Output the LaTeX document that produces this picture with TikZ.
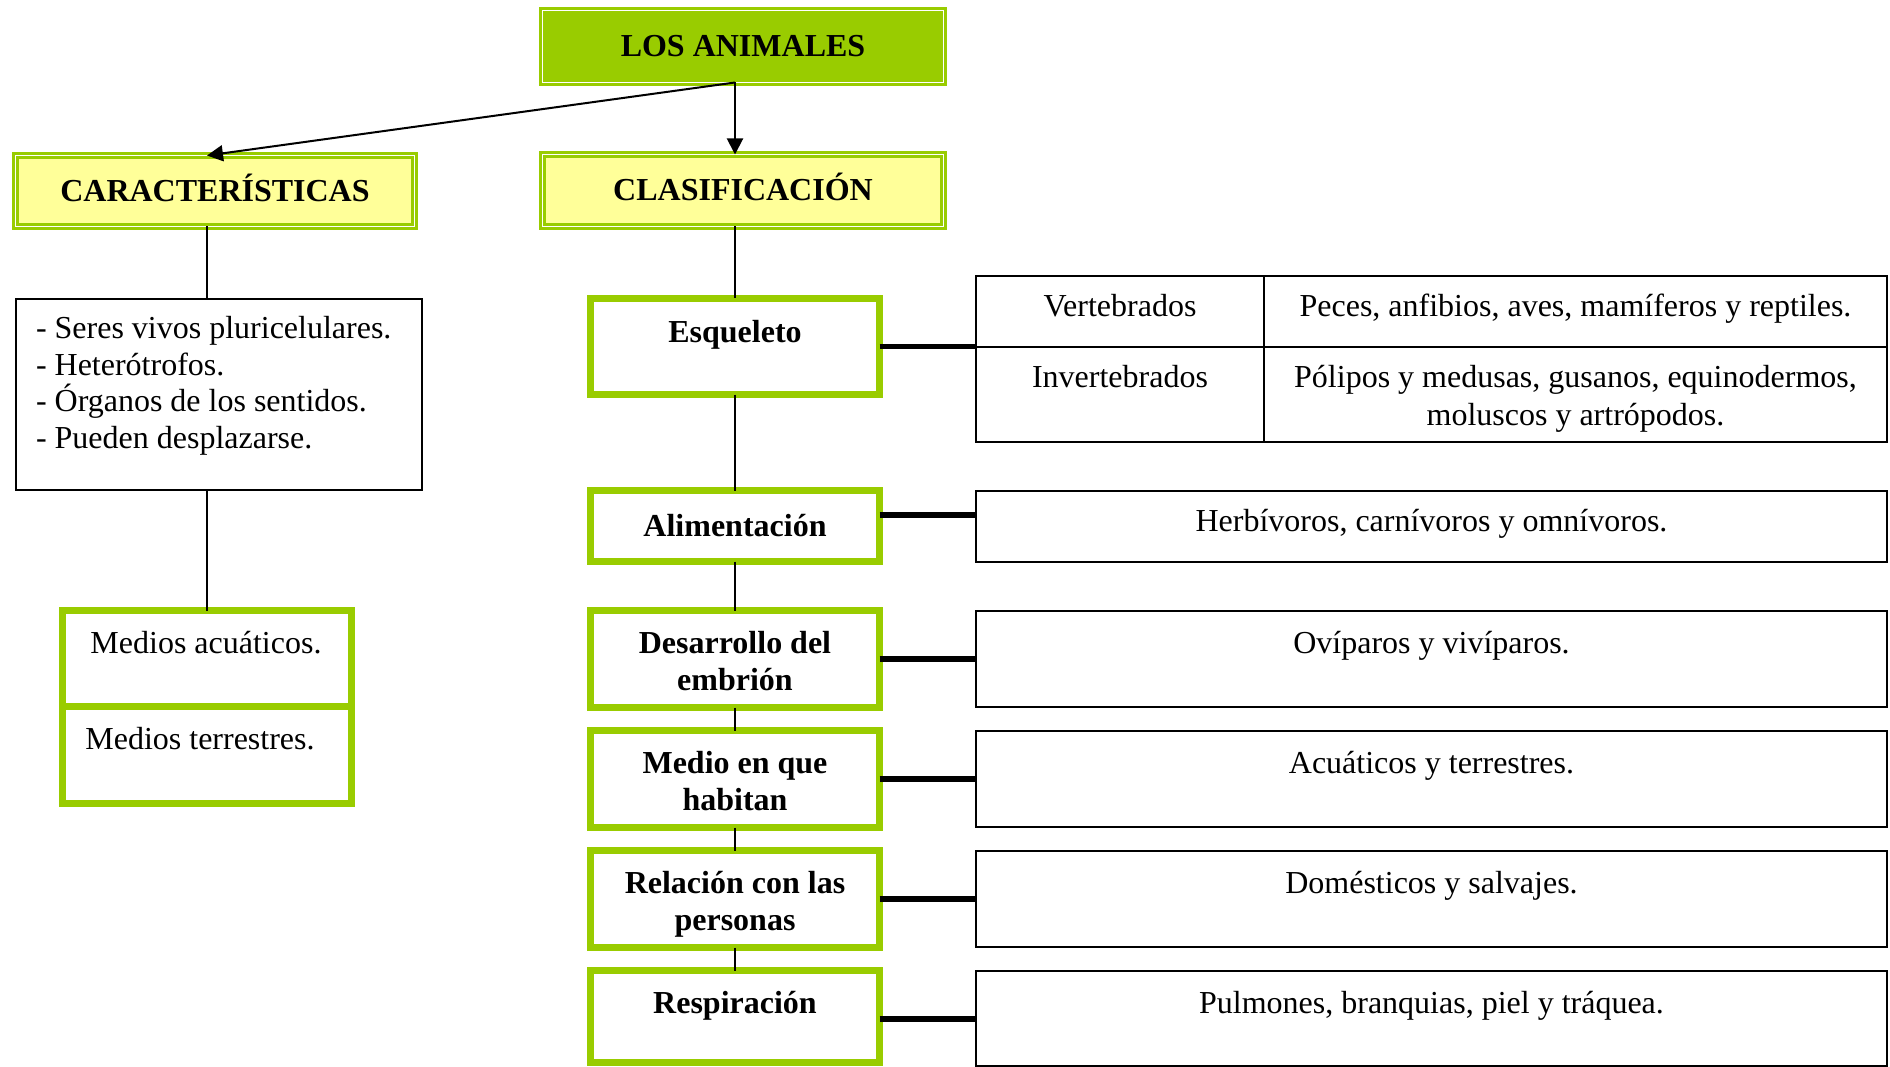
\documentclass[tikz,border=0pt]{standalone}
\usepackage{fontspec}
\setmainfont{Liberation Serif}
\usetikzlibrary{arrows.meta}
\definecolor{hgreen}{HTML}{99CC00}
\definecolor{hyellow}{HTML}{FFFF99}
\begin{document}
\begin{tikzpicture}[x=1pt,y=-1pt,
  every node/.style={inner sep=0pt, outer sep=0pt},
  txtn/.style={font=\fontsize{32}{38}\selectfont, text height=21pt, text depth=0pt},
  btxt/.style={font=\fontsize{32}{38}\selectfont\bfseries, text height=21pt, text depth=0pt},
  hdr/.style={rectangle, draw=hgreen, line width=7pt, btxt},
  gbox/.style={rectangle, draw=hgreen, line width=7pt, fill=white},
  rbox/.style={rectangle, draw=black, line width=2pt, fill=white},
  conn/.style={line width=1.5pt},
  thickc/.style={line width=5.5pt},
  arr/.style={line width=2pt, -{Triangle[length=16pt,width=16pt]}},
]
\useasboundingbox[fill=white] (0,0) rectangle (1890,1067);

% headers
\node[hdr, fill=hgreen, minimum width=401pt, minimum height=72pt] (ani) at (743,46.5) {LOS ANIMALES};
\draw[white, line width=1pt] (ani.north west) rectangle (ani.south east);
\node[hdr, fill=hyellow, minimum width=401pt, minimum height=72pt] (cla) at (743,190.5) {CLASIFICACIÓN};
\draw[white, line width=1pt] (cla.north west) rectangle (cla.south east);
\node[hdr, fill=hyellow, minimum width=399pt, minimum height=71pt] (car) at (215,191) {CARACTERÍSTICAS};
\draw[white, line width=1pt] (car.north west) rectangle (car.south east);

\coordinate (src) at (735,82.5);
\coordinate (lcol) at (207,0);

% left column
\node[rbox, minimum width=406pt, minimum height=191pt] (lst) at (219,394.5) {};
\node[txtn, anchor=west] (l1) at (36,327.5) {- Seres vivos pluricelulares.};
\node[txtn, anchor=west] (l2) at (36,364.5) {- Heterótrofos.};
\node[txtn, anchor=west] (l3) at (36,401) {- Órganos de los sentidos.};
\node[txtn, anchor=west] (l4) at (36,437.5) {- Pueden desplazarse.};

\node[gbox, minimum width=289pt, minimum height=96pt] (mac) at (207,658.5) {};
\node[gbox, minimum width=289pt, minimum height=97pt] (mte) at (207,755) {};
\node[txtn] (tmac) at (206,642.5) {Medios acuáticos.};
\node[txtn] (tmte) at (200,738.5) {Medios terrestres.};

% central column
\node[gbox, minimum width=289pt, minimum height=96pt] (esq) at (735,346.5) {};
\node[gbox, minimum width=289pt, minimum height=71pt] (ali) at (735,526) {};
\node[gbox, minimum width=289pt, minimum height=97pt] (des) at (735,659) {};
\node[gbox, minimum width=289pt, minimum height=97pt] (med) at (735,779) {};
\node[gbox, minimum width=289pt, minimum height=97pt] (rel) at (735,899) {};
\node[gbox, minimum width=289pt, minimum height=92pt] (res) at (735,1016.5) {};

\node[btxt] (tesq) at (735,332) {Esqueleto};
\node[btxt] (tali) at (735,526) {Alimentación};
\node[btxt] (tdes1) at (735,643) {Desarrollo del};
\node[btxt] (tdes2) at (735,680) {embrión};
\node[btxt] (tmed1) at (735,763) {Medio en que};
\node[btxt] (tmed2) at (735,800) {habitan};
\node[btxt] (trel1) at (735,883) {Relación con las};
\node[btxt] (trel2) at (735,920) {personas};
\node[btxt] (tres) at (735,1003) {Respiración};

% right column
\node[rbox, minimum width=911pt, minimum height=166pt] (tab) at (1431.5,359) {};
\coordinate (div) at (1264,347);
\draw[line width=2pt] (tab.west |- div) -- (tab.east |- div);
\draw[line width=2pt] (tab.north -| div) -- (tab.south -| div);
\node[txtn] (tv) at (1120,306) {Vertebrados};
\node[txtn] (tvp) at (1575.5,306) {Peces, anfibios, aves, mamíferos y reptiles.};
\node[txtn] (ti) at (1120,377) {Invertebrados};
\node[txtn] (tip1) at (1575.5,377) {Pólipos y medusas, gusanos, equinodermos,};
\node[txtn] (tip2) at (1575.5,415) {moluscos y artrópodos.};

\node[rbox, minimum width=911pt, minimum height=71pt] (aliR) at (1431.5,526.5) {};
\node[rbox, minimum width=911pt, minimum height=96pt] (desR) at (1431.5,659) {};
\node[rbox, minimum width=911pt, minimum height=96pt] (medR) at (1431.5,779) {};
\node[rbox, minimum width=911pt, minimum height=96pt] (relR) at (1431.5,899) {};
\node[rbox, minimum width=911pt, minimum height=95pt] (resR) at (1431.5,1018.5) {};

\node[txtn] (taliR) at (1431.5,521) {Herbívoros, carnívoros y omnívoros.};
\node[txtn] (tdesR) at (1431.5,643) {Ovíparos y vivíparos.};
\node[txtn] (tmedR) at (1431.5,763) {Acuáticos y terrestres.};
\node[txtn] (trelR) at (1431.5,883) {Domésticos y salvajes.};
\node[txtn] (tresR) at (1431.5,1003) {Pulmones, branquias, piel y tráquea.};

% arrows
\draw[arr] (src) -- (cla.north -| src);
\draw[arr] (src) -- (car.north -| lcol);

% thin connectors
\draw[conn] (cla.south -| src) -- (esq.north -| src);
\draw[conn] (esq.south -| src) -- (ali.north -| src);
\draw[conn] (ali.south -| src) -- (des.north -| src);
\draw[conn] (des.south -| src) -- (med.north -| src);
\draw[conn] (med.south -| src) -- (rel.north -| src);
\draw[conn] (rel.south -| src) -- (res.north -| src);
\draw[conn] (car.south -| lcol) -- (lst.north -| lcol);
\draw[conn] (lst.south -| lcol) -- (mac.north -| lcol);

% thick connectors
\draw[thickc] (esq.east) -- (esq.east -| tab.west);
\draw[thickc] ([yshift=11pt]ali.east) -- ([yshift=11pt]ali.east -| aliR.west);
\draw[thickc] (des.east) -- (des.east -| desR.west);
\draw[thickc] (med.east) -- (med.east -| medR.west);
\draw[thickc] (rel.east) -- (rel.east -| relR.west);
\draw[thickc] ([yshift=-2.5pt]res.east) -- ([yshift=-2.5pt]res.east -| resR.west);
\end{tikzpicture}
\end{document}
